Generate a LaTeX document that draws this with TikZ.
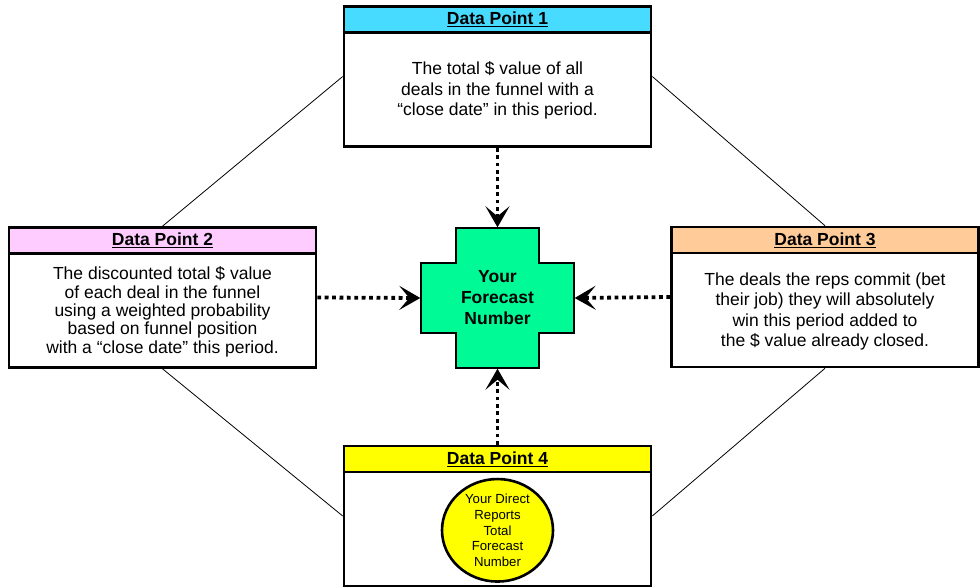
\documentclass[tikz,border=0pt]{standalone}
\usepackage{fontspec}
\setmainfont{Liberation Sans}
\usetikzlibrary{arrows.meta,calc,shapes.geometric}

\definecolor{dpcyan}{RGB}{71,219,255}
\definecolor{dppink}{RGB}{255,204,255}
\definecolor{dporange}{RGB}{255,204,153}
\definecolor{dpyellow}{RGB}{255,255,0}
\definecolor{fcgreen}{RGB}{0,250,150}

\begin{document}
\begin{tikzpicture}[
    x=1pt, y=-1pt,
    dpbox/.style={
        draw,
        line width=2.6pt,
        fill=white,
        minimum width=307pt,
        minimum height=140pt,
        inner sep=0pt
    },
    dphead/.style={
        draw,
        line width=2.6pt,
        minimum width=307pt,
        minimum height=26pt,
        inner sep=0pt,
        anchor=north,
        font=\fontsize{17.5}{20}\selectfont\bfseries
    },
    dptext/.style={align=center, inner sep=0pt, font=\fontsize{17.5}{20.5}\selectfont},
    feed/.style={
        line width=3.8pt,
        dash pattern=on 3.8pt off 3.6pt,
        shorten >=0.5pt,
        -{Stealth[length=21pt, width=24pt, inset=10pt]}
    },
    link/.style={line width=0.8pt}
]
\useasboundingbox (0,0) rectangle (980,588);

% The four data point boxes with coloured headers
\foreach \n/\cx/\cy/\col in {
    1/497.5/76.5/dpcyan,
    2/162.5/297.5/dppink,
    3/825/297/dporange,
    4/497.5/516/dpyellow}{
    \node[dpbox] (dp\n) at (\cx,\cy) {};
    \node[dphead, fill=\col] (hd\n) at (dp\n.north) {\underline{Data Point \n}};
}

% Box texts
\node[dptext] (tx1) at ($(hd1.south)!0.5!(dp1.south)$)
    {The total \$ value of all\\deals in the funnel with a\\“close date” in this period.};
\node[dptext, font=\fontsize{17.5}{18.3}\selectfont] (tx2) at ($(hd2.south)!0.5!(dp2.south)$)
    {The discounted total \$ value\\of each deal in the funnel\\using a weighted probability\\based on funnel position\\with a “close date” this period.};
\node[dptext] (tx3) at ($(hd3.south)!0.5!(dp3.south)$)
    {The deals the reps commit (bet\\their job) they will absolutely\\win this period added to\\the \$ value already closed.};
\node[ellipse, draw, line width=2.6pt, fill=dpyellow, minimum width=111pt, minimum height=100pt,
      inner sep=0pt, align=center, font=\fontsize{13.2}{15.7}\selectfont] (dprep)
    at ($(hd4.south)!0.5!(dp4.south)$)
    {Your Direct\\Reports\\Total\\Forecast\\Number};

% Central cross
\begin{scope}[shift={(497.5,298)}]
\draw[line width=2.6pt, fill=fcgreen]
    (-41.5,-70) -- (41.5,-70) -- (41.5,-35) -- (76.5,-35) -- (76.5,35) -- (41.5,35)
    -- (41.5,70) -- (-41.5,70) -- (-41.5,35) -- (-76.5,35) -- (-76.5,-35) -- (-41.5,-35) -- cycle;
\end{scope}
\node[minimum width=153pt, minimum height=140pt, inner sep=0pt, align=center,
      font=\fontsize{17.5}{21}\selectfont\bfseries] (fc) at (497.5,298)
    {Your\\Forecast\\Number};

% Feeds into the forecast
\draw[feed] (dp1.south) -- (fc.north);
\draw[feed] (dp2.east) -- (fc.west);
\draw[feed] (dp3.west) -- (fc.east);
\draw[feed] (dp4.north) -- (fc.south);

% Outer links
\draw[link] (dp1.west) -- (dp2.north);
\draw[link] (dp1.east) -- (dp3.north);
\draw[link] (dp2.south) -- (dp4.west);
\draw[link] (dp3.south) -- (dp4.east);
\end{tikzpicture}
\end{document}
